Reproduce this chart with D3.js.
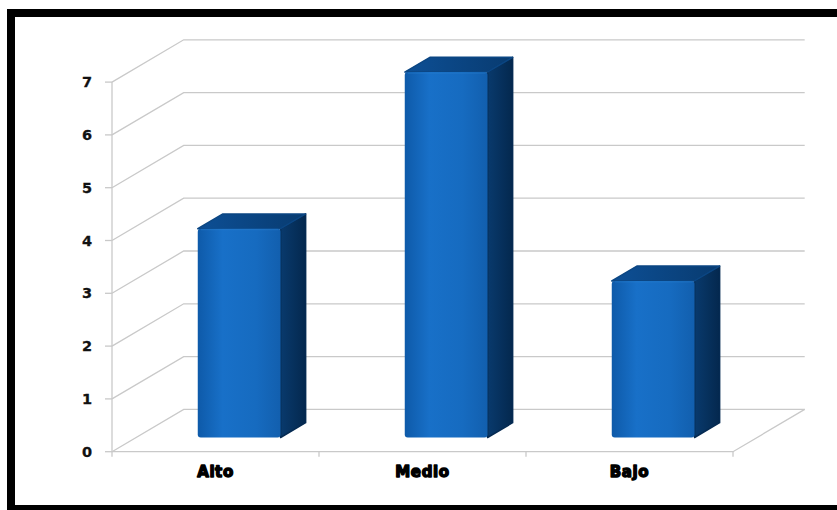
<!DOCTYPE html>
<html>
<head>
<meta charset="utf-8">
<script src="https://cdn.jsdelivr.net/npm/d3@7"></script>
<style>
  html, body { margin: 0; padding: 0; background: #ffffff; }
  svg { display: block; }
</style>
</head>
<body>
<svg id="chart" width="837" height="510"></svg>
<script>
// Chart data
const categories = ["Alto", "Medio", "Bajo"];
const values = [4, 7, 3];
const yTicks = [0, 1, 2, 3, 4, 5, 6, 7];

const svg = d3.select("#chart");

// Oblique 3D projection: depth vector of the plot box
const depthX = 71.7, depthY = -42.3;
const barDepth0 = 0.33, barDepth1 = 0.68;

// Front plane scales
const x = d3.scaleBand().domain(categories).range([112, 733])
  .paddingInner(0.6).paddingOuter(0.3);
const xStep = d3.scaleBand().domain(categories).range([112, 733]);
const yGrid = d3.scaleLinear().domain([0, 7]).range([451.7, 82.1]);
// Bars stand a little back inside the box
const yBar = d3.scaleLinear().domain([0, 7]).range([437.5, 437.5 - 7 * 52.2]);

const defs = svg.append("defs");
function grad(id, stops, x2 = "100%", y2 = "0%") {
  const g = defs.append("linearGradient").attr("id", id)
    .attr("x1", "0%").attr("y1", "0%").attr("x2", x2).attr("y2", y2);
  stops.forEach(([o, c]) => g.append("stop").attr("offset", o).attr("stop-color", c));
}
grad("front", [["0%", "#0e5aa9"], ["30%", "#1870c8"], ["70%", "#166bc0"], ["100%", "#125fae"]]);
grad("side", [["0%", "#093a6d"], ["100%", "#04284e"]]);
grad("top", [["0%", "#0d4f95"], ["100%", "#083b70"]], "100%", "0%");

const gridColor = "#c9c9c9";
const grid = svg.append("g").attr("fill", "none").attr("stroke", gridColor).attr("stroke-width", 1.3);

// Back wall gridlines and side-wall diagonals
yTicks.forEach(v => {
  const yf = yGrid(v);
  grid.append("path")
    .attr("d", `M112,${yf}L${112 + depthX},${yf + depthY}L${733 + depthX},${yf + depthY}`);
});

// Floor front edge and right edge
grid.append("path").attr("d", `M112,${yGrid(0)}L733,${yGrid(0)}L${733 + depthX},${yGrid(0) + depthY}`);

// Value axis line and ticks
grid.append("path").attr("d", `M112,${yGrid(7)}L112,${yGrid(0)}`);
yTicks.forEach(v => {
  grid.append("path").attr("d", `M105,${yGrid(v)}L112,${yGrid(v)}`);
});
// Category axis ticks
const bounds = categories.map(c => xStep(c)).concat([733]);
bounds.forEach(b => {
  grid.append("path").attr("d", `M${b},${yGrid(0)}L${b},${yGrid(0) + 5}`);
});

// Value axis labels
svg.append("g").selectAll("text").data(yTicks).join("text")
  .attr("x", 92).attr("y", d => yGrid(d) + 5)
  .attr("text-anchor", "end")
  .attr("font-family", "DejaVu Sans, Verdana, sans-serif")
  .attr("font-weight", "bold").attr("font-size", 14.5)
  .attr("fill", "#111").attr("stroke", "#111").attr("stroke-width", 0.3)
  .text(d => d);

// Category labels
svg.append("g").selectAll("text").data(categories).join("text")
  .attr("x", d => xStep(d) + xStep.bandwidth() / 2)
  .attr("y", 477)
  .attr("text-anchor", "middle")
  .attr("font-family", "DejaVu Sans, Arial Black, sans-serif")
  .attr("font-weight", "bold").attr("font-size", 15)
  .attr("fill", "#000").attr("stroke", "#000").attr("stroke-width", 1.4)
  .attr("stroke-linejoin", "round")
  .attr("letter-spacing", 0.6)
  .text(d => d);

// 3D bars
const bars = svg.append("g");
categories.forEach((c, i) => {
  const v = values[i];
  const fx0 = x(c) + barDepth0 * depthX;
  const fx1 = fx0 + x.bandwidth();
  const dY = (barDepth1 - barDepth0) * depthY;
  const dX = (barDepth1 - barDepth0) * depthX;
  const yb = yBar(0), yt = yBar(v);
  const g = bars.append("g");
  // side face
  g.append("path")
    .attr("d", `M${fx1},${yt}L${fx1 + dX},${yt + dY}L${fx1 + dX},${yb + dY}L${fx1},${yb}Z`)
    .attr("fill", "url(#side)")
    .attr("stroke", "#052a52").attr("stroke-width", 1.5).attr("stroke-linejoin", "round");
  // top face
  g.append("path")
    .attr("d", `M${fx0},${yt}L${fx0 + dX},${yt + dY}L${fx1 + dX},${yt + dY}L${fx1},${yt}Z`)
    .attr("fill", "url(#top)")
    .attr("stroke", "#0b4683").attr("stroke-width", 1.5).attr("stroke-linejoin", "round");
  // front face
  g.append("rect")
    .attr("x", fx0).attr("y", yt)
    .attr("width", fx1 - fx0).attr("height", yb - yt)
    .attr("rx", 3)
    .attr("fill", "url(#front)");
  // soft highlight along the top front edge
  g.append("line")
    .attr("x1", fx0 + 3).attr("x2", fx1 - 2).attr("y1", yt + 1).attr("y2", yt + 1)
    .attr("stroke", "#2a7fd2").attr("stroke-opacity", 0.5).attr("stroke-width", 1);
});

// Black frame around the chart area
const frame = svg.append("g").attr("fill", "#000");
frame.append("rect").attr("x", 7).attr("y", 9).attr("width", 830).attr("height", 8);
frame.append("rect").attr("x", 7).attr("y", 9).attr("width", 8).attr("height", 501);
frame.append("rect").attr("x", 7).attr("y", 505).attr("width", 830).attr("height", 5);
</script>
</body>
</html>
